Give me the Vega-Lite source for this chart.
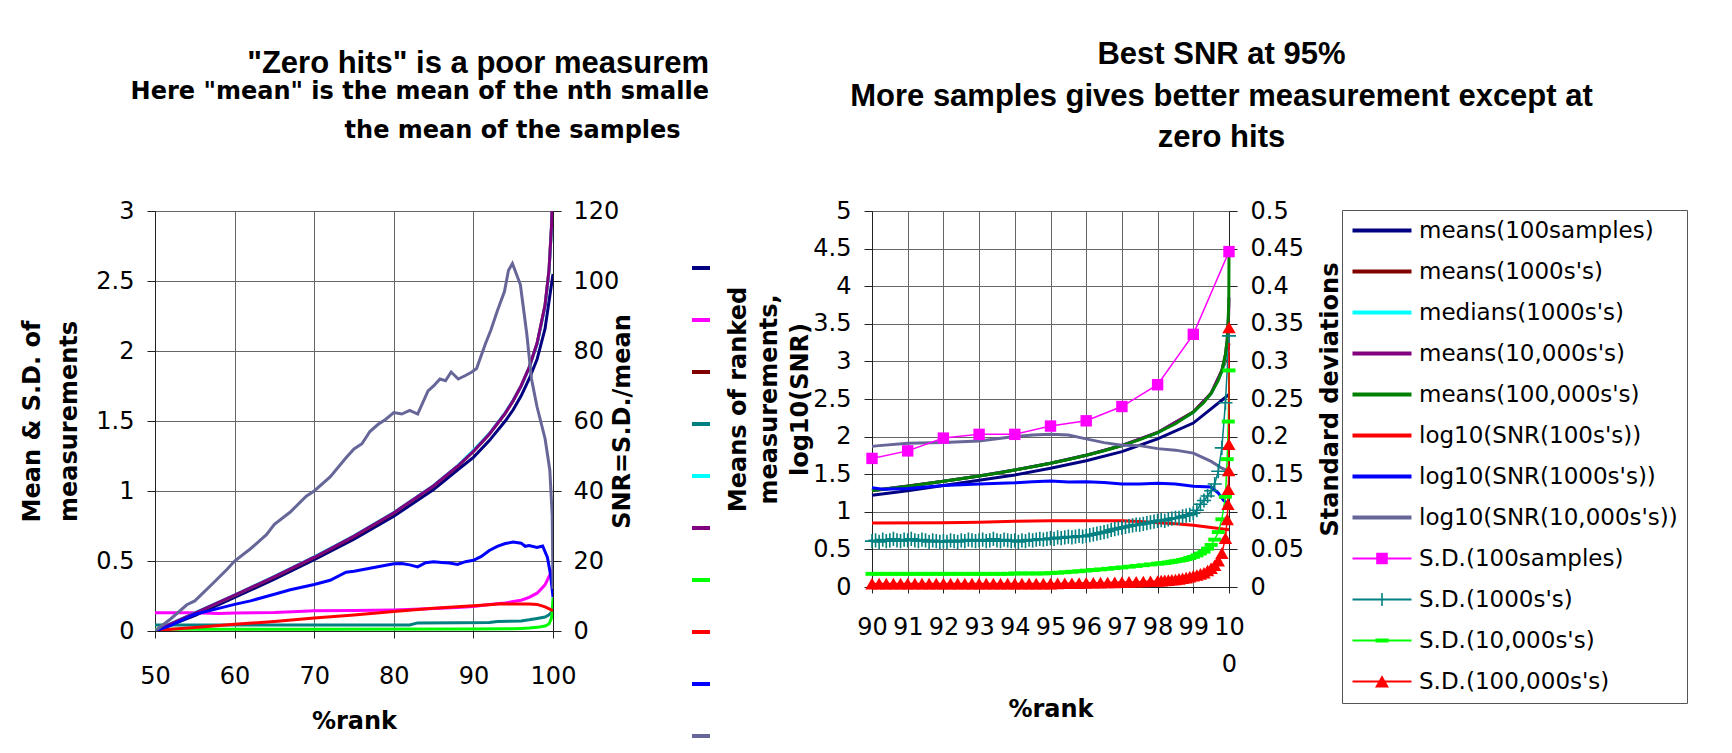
{
"$schema": "https://vega.github.io/schema/vega-lite/v6.json",
"background": "white",
"padding": {"left": 20, "top": 38, "right": 0, "bottom": 0},
"config": {
  "view": {"stroke": "#555", "strokeWidth": 1},
  "axis": {"labelFont": "DejaVu Sans", "labelFontSize": 24, "labelColor": "#000", "titleFont": "DejaVu Sans", "titleFontSize": 24, "titleFontWeight": "bold", "titleColor": "#000", "domainColor": "#222", "tickColor": "#222", "gridColor": "#666", "tickSize": 8, "labelFlush": false, "labelOverlap": false},
  "legend": {"labelFont": "DejaVu Sans", "labelFontSize": 23, "labelColor": "#000"},
  "title": {"font": "Liberation Sans", "fontWeight": "bold", "color": "#000", "subtitleFont": "DejaVu Sans", "subtitleFontWeight": "bold", "subtitleColor": "#000"}
},
"datasets": {
"L": [
{"s":"mean100","x":50,"y":0},{"s":"mean100","x":55,"y":0.11},{"s":"mean100","x":60,"y":0.24},{"s":"mean100","x":65,"y":0.37},{"s":"mean100","x":70,"y":0.51},{"s":"mean100","x":75,"y":0.655},{"s":"mean100","x":80,"y":0.82},{"s":"mean100","x":85,"y":1.01},{"s":"mean100","x":88,"y":1.15},{"s":"mean100","x":90,"y":1.24},{"s":"mean100","x":92,"y":1.36},{"s":"mean100","x":94,"y":1.5},{"s":"mean100","x":95,"y":1.58},{"s":"mean100","x":96,"y":1.68},{"s":"mean100","x":97,"y":1.8},{"s":"mean100","x":98,"y":1.94},{"s":"mean100","x":99,"y":2.16},{"s":"mean100","x":100,"y":2.55},
{"s":"sd100","x":50,"y":0.13},{"s":"sd100","x":55,"y":0.13},{"s":"sd100","x":58,"y":0.125},{"s":"sd100","x":60,"y":0.128},{"s":"sd100","x":65,"y":0.132},{"s":"sd100","x":68,"y":0.14},{"s":"sd100","x":70,"y":0.145},{"s":"sd100","x":75,"y":0.146},{"s":"sd100","x":80,"y":0.15},{"s":"sd100","x":85,"y":0.16},{"s":"sd100","x":88,"y":0.168},{"s":"sd100","x":90,"y":0.175},{"s":"sd100","x":92,"y":0.19},{"s":"sd100","x":94,"y":0.2},{"s":"sd100","x":95,"y":0.21},{"s":"sd100","x":96,"y":0.22},{"s":"sd100","x":97,"y":0.24},{"s":"sd100","x":98,"y":0.27},{"s":"sd100","x":99,"y":0.33},{"s":"sd100","x":99.5,"y":0.39},{"s":"sd100","x":100,"y":0.44},
{"s":"mean1000","x":50,"y":0},{"s":"mean1000","x":55,"y":0.126},{"s":"mean1000","x":60,"y":0.253},{"s":"mean1000","x":65,"y":0.385},{"s":"mean1000","x":70,"y":0.524},{"s":"mean1000","x":75,"y":0.674},{"s":"mean1000","x":80,"y":0.842},{"s":"mean1000","x":85,"y":1.036},{"s":"mean1000","x":88,"y":1.175},{"s":"mean1000","x":90,"y":1.282},{"s":"mean1000","x":92,"y":1.405},{"s":"mean1000","x":94,"y":1.555},{"s":"mean1000","x":95,"y":1.645},{"s":"mean1000","x":96,"y":1.751},{"s":"mean1000","x":97,"y":1.881},{"s":"mean1000","x":98,"y":2.054},{"s":"mean1000","x":99,"y":2.326},{"s":"mean1000","x":99.5,"y":2.576},{"s":"mean1000","x":99.8,"y":2.878},{"s":"mean1000","x":99.9,"y":3.0},{"s":"mean1000","x":100,"y":3.24},
{"s":"sd1000","x":50,"y":0.043},{"s":"sd1000","x":60,"y":0.042},{"s":"sd1000","x":70,"y":0.043},{"s":"sd1000","x":82,"y":0.043},{"s":"sd1000","x":83,"y":0.058},{"s":"sd1000","x":88,"y":0.059},{"s":"sd1000","x":92,"y":0.06},{"s":"sd1000","x":93,"y":0.068},{"s":"sd1000","x":96,"y":0.072},{"s":"sd1000","x":97,"y":0.08},{"s":"sd1000","x":98,"y":0.09},{"s":"sd1000","x":99,"y":0.1},{"s":"sd1000","x":99.5,"y":0.115},{"s":"sd1000","x":100,"y":0.145},
{"s":"median1000","x":50,"y":0},{"s":"median1000","x":55,"y":0.13},{"s":"median1000","x":60,"y":0.257},{"s":"median1000","x":65,"y":0.39},{"s":"median1000","x":70,"y":0.53},{"s":"median1000","x":75,"y":0.68},{"s":"median1000","x":80,"y":0.846},{"s":"median1000","x":85,"y":1.04},{"s":"median1000","x":88,"y":1.18},{"s":"median1000","x":90,"y":1.29},{"s":"median1000","x":92,"y":1.41},{"s":"median1000","x":94,"y":1.56},{"s":"median1000","x":95,"y":1.65},{"s":"median1000","x":96,"y":1.75},{"s":"median1000","x":97,"y":1.88},{"s":"median1000","x":98,"y":2.05},{"s":"median1000","x":99,"y":2.32},{"s":"median1000","x":99.5,"y":2.57},{"s":"median1000","x":99.8,"y":2.86},{"s":"median1000","x":99.9,"y":3.05},{"s":"median1000","x":100,"y":3.2},
{"s":"mean10000","x":50,"y":0},{"s":"mean10000","x":55,"y":0.128},{"s":"mean10000","x":60,"y":0.256},{"s":"mean10000","x":65,"y":0.388},{"s":"mean10000","x":70,"y":0.527},{"s":"mean10000","x":75,"y":0.678},{"s":"mean10000","x":80,"y":0.845},{"s":"mean10000","x":85,"y":1.038},{"s":"mean10000","x":88,"y":1.177},{"s":"mean10000","x":90,"y":1.284},{"s":"mean10000","x":92,"y":1.407},{"s":"mean10000","x":94,"y":1.556},{"s":"mean10000","x":95,"y":1.646},{"s":"mean10000","x":96,"y":1.752},{"s":"mean10000","x":97,"y":1.882},{"s":"mean10000","x":98,"y":2.055},{"s":"mean10000","x":99,"y":2.327},{"s":"mean10000","x":99.5,"y":2.577},{"s":"mean10000","x":99.8,"y":2.879},{"s":"mean10000","x":99.9,"y":3.09},{"s":"mean10000","x":100,"y":3.85},
{"s":"sd10000","x":50,"y":0.013},{"s":"sd10000","x":70,"y":0.013},{"s":"sd10000","x":90,"y":0.014},{"s":"sd10000","x":95,"y":0.016},{"s":"sd10000","x":96,"y":0.018},{"s":"sd10000","x":97,"y":0.021},{"s":"sd10000","x":98,"y":0.026},{"s":"sd10000","x":99,"y":0.035},{"s":"sd10000","x":99.5,"y":0.05},{"s":"sd10000","x":99.8,"y":0.09},{"s":"sd10000","x":99.9,"y":0.13},{"s":"sd10000","x":100,"y":0.24},
{"s":"snr100","x":50,"y":0},{"s":"snr100","x":52,"y":0.5},{"s":"snr100","x":55,"y":1},{"s":"snr100","x":60,"y":1.9},{"s":"snr100","x":65,"y":2.7},{"s":"snr100","x":70,"y":3.7},{"s":"snr100","x":75,"y":4.6},{"s":"snr100","x":80,"y":5.6},{"s":"snr100","x":85,"y":6.5},{"s":"snr100","x":90,"y":7.2},{"s":"snr100","x":92,"y":7.5},{"s":"snr100","x":93.5,"y":7.8},{"s":"snr100","x":95,"y":7.7},{"s":"snr100","x":97,"y":7.7},{"s":"snr100","x":98,"y":7.6},{"s":"snr100","x":99,"y":6.9},{"s":"snr100","x":100,"y":5.8},
{"s":"snr1000","x":50,"y":0},{"s":"snr1000","x":52,"y":1.6},{"s":"snr1000","x":55,"y":4.8},{"s":"snr1000","x":57,"y":5.9},{"s":"snr1000","x":60,"y":7.6},{"s":"snr1000","x":62,"y":8.6},{"s":"snr1000","x":65,"y":10.5},{"s":"snr1000","x":67,"y":11.8},{"s":"snr1000","x":70,"y":13.3},{"s":"snr1000","x":72,"y":14.5},{"s":"snr1000","x":74,"y":16.8},{"s":"snr1000","x":75,"y":17.1},{"s":"snr1000","x":77,"y":17.9},{"s":"snr1000","x":79,"y":18.8},{"s":"snr1000","x":80,"y":19.2},{"s":"snr1000","x":81,"y":19.3},{"s":"snr1000","x":82,"y":18.9},{"s":"snr1000","x":83,"y":18.3},{"s":"snr1000","x":84,"y":19.5},{"s":"snr1000","x":85,"y":19.8},{"s":"snr1000","x":86,"y":19.6},{"s":"snr1000","x":87,"y":19.4},{"s":"snr1000","x":88,"y":19.0},{"s":"snr1000","x":89,"y":19.8},{"s":"snr1000","x":90,"y":20.2},{"s":"snr1000","x":91,"y":21.3},{"s":"snr1000","x":92,"y":23.0},{"s":"snr1000","x":93,"y":24.2},{"s":"snr1000","x":94,"y":25.0},{"s":"snr1000","x":95,"y":25.4},{"s":"snr1000","x":96,"y":25.1},{"s":"snr1000","x":96.5,"y":24.2},{"s":"snr1000","x":97,"y":24.4},{"s":"snr1000","x":98,"y":23.9},{"s":"snr1000","x":98.7,"y":24.3},{"s":"snr1000","x":99.3,"y":21.0},{"s":"snr1000","x":99.7,"y":16.0},{"s":"snr1000","x":100,"y":9.7},
{"s":"snr10000","x":50,"y":0},{"s":"snr10000","x":52,"y":3.5},{"s":"snr10000","x":54,"y":7.5},{"s":"snr10000","x":55,"y":8.6},{"s":"snr10000","x":57,"y":13},{"s":"snr10000","x":59,"y":17.5},{"s":"snr10000","x":60,"y":20},{"s":"snr10000","x":62,"y":23.5},{"s":"snr10000","x":64,"y":27.5},{"s":"snr10000","x":65,"y":30.5},{"s":"snr10000","x":67,"y":34},{"s":"snr10000","x":69,"y":38.5},{"s":"snr10000","x":70,"y":40},{"s":"snr10000","x":72,"y":44},{"s":"snr10000","x":74,"y":49.5},{"s":"snr10000","x":75,"y":52},{"s":"snr10000","x":76,"y":53.5},{"s":"snr10000","x":77,"y":57},{"s":"snr10000","x":78,"y":59},{"s":"snr10000","x":79,"y":60.5},{"s":"snr10000","x":80,"y":62.4},{"s":"snr10000","x":81,"y":62},{"s":"snr10000","x":82,"y":63},{"s":"snr10000","x":83,"y":62},{"s":"snr10000","x":84.3,"y":68.6},{"s":"snr10000","x":85,"y":70},{"s":"snr10000","x":85.8,"y":72},{"s":"snr10000","x":86.5,"y":71.5},{"s":"snr10000","x":87.2,"y":74},{"s":"snr10000","x":88.1,"y":72},{"s":"snr10000","x":89,"y":73},{"s":"snr10000","x":89.8,"y":74},{"s":"snr10000","x":90.4,"y":75},{"s":"snr10000","x":91.5,"y":82},{"s":"snr10000","x":92.2,"y":86},{"s":"snr10000","x":93,"y":91.4},{"s":"snr10000","x":93.9,"y":97},{"s":"snr10000","x":94.4,"y":103},{"s":"snr10000","x":94.9,"y":105},{"s":"snr10000","x":95.4,"y":102},{"s":"snr10000","x":95.9,"y":99},{"s":"snr10000","x":96.3,"y":92},{"s":"snr10000","x":96.7,"y":85},{"s":"snr10000","x":97.3,"y":72},{"s":"snr10000","x":98,"y":64},{"s":"snr10000","x":99,"y":55},{"s":"snr10000","x":99.6,"y":46},{"s":"snr10000","x":99.9,"y":33},{"s":"snr10000","x":100,"y":12}
],
"R": [
{"s":"means(100samples)","x":90,"y":1.22},{"s":"means(100samples)","x":91,"y":1.28},{"s":"means(100samples)","x":92,"y":1.35},{"s":"means(100samples)","x":93,"y":1.42},{"s":"means(100samples)","x":94,"y":1.49},{"s":"means(100samples)","x":95,"y":1.58},{"s":"means(100samples)","x":96,"y":1.68},{"s":"means(100samples)","x":97,"y":1.8},{"s":"means(100samples)","x":98,"y":1.97},{"s":"means(100samples)","x":99,"y":2.18},{"s":"means(100samples)","x":100,"y":2.56},
{"s":"means(1000s's)","x":90,"y":1.28},{"s":"means(1000s's)","x":91,"y":1.34},{"s":"means(1000s's)","x":92,"y":1.405},{"s":"means(1000s's)","x":93,"y":1.476},{"s":"means(1000s's)","x":94,"y":1.555},{"s":"means(1000s's)","x":95,"y":1.645},{"s":"means(1000s's)","x":96,"y":1.751},{"s":"means(1000s's)","x":97,"y":1.881},{"s":"means(1000s's)","x":98,"y":2.054},{"s":"means(1000s's)","x":99,"y":2.326},{"s":"means(1000s's)","x":99.5,"y":2.576},{"s":"means(1000s's)","x":99.8,"y":2.878},{"s":"means(1000s's)","x":99.9,"y":3.0},{"s":"means(1000s's)","x":100,"y":3.24},
{"s":"medians(1000s's)","x":90,"y":1.282},{"s":"medians(1000s's)","x":91,"y":1.341},{"s":"medians(1000s's)","x":92,"y":1.405},{"s":"medians(1000s's)","x":93,"y":1.476},{"s":"medians(1000s's)","x":94,"y":1.555},{"s":"medians(1000s's)","x":95,"y":1.645},{"s":"medians(1000s's)","x":96,"y":1.751},{"s":"medians(1000s's)","x":97,"y":1.881},{"s":"medians(1000s's)","x":98,"y":2.05},{"s":"medians(1000s's)","x":99,"y":2.32},{"s":"medians(1000s's)","x":99.5,"y":2.57},{"s":"medians(1000s's)","x":99.8,"y":2.86},{"s":"medians(1000s's)","x":99.9,"y":3.05},{"s":"medians(1000s's)","x":100,"y":3.15},
{"s":"means(10,000s's)","x":90,"y":1.284},{"s":"means(10,000s's)","x":91,"y":1.342},{"s":"means(10,000s's)","x":92,"y":1.406},{"s":"means(10,000s's)","x":93,"y":1.477},{"s":"means(10,000s's)","x":94,"y":1.556},{"s":"means(10,000s's)","x":95,"y":1.646},{"s":"means(10,000s's)","x":96,"y":1.752},{"s":"means(10,000s's)","x":97,"y":1.882},{"s":"means(10,000s's)","x":98,"y":2.055},{"s":"means(10,000s's)","x":99,"y":2.327},{"s":"means(10,000s's)","x":99.5,"y":2.577},{"s":"means(10,000s's)","x":99.8,"y":2.879},{"s":"means(10,000s's)","x":99.9,"y":3.09},{"s":"means(10,000s's)","x":99.95,"y":3.29},{"s":"means(10,000s's)","x":99.99,"y":3.62},{"s":"means(10,000s's)","x":100,"y":3.85},
{"s":"means(100,000s's)","x":90,"y":1.282},{"s":"means(100,000s's)","x":90.5,"y":1.311},{"s":"means(100,000s's)","x":91,"y":1.341},{"s":"means(100,000s's)","x":91.5,"y":1.372},{"s":"means(100,000s's)","x":92,"y":1.405},{"s":"means(100,000s's)","x":92.5,"y":1.44},{"s":"means(100,000s's)","x":93,"y":1.476},{"s":"means(100,000s's)","x":93.5,"y":1.514},{"s":"means(100,000s's)","x":94,"y":1.555},{"s":"means(100,000s's)","x":94.5,"y":1.598},{"s":"means(100,000s's)","x":95,"y":1.645},{"s":"means(100,000s's)","x":95.5,"y":1.695},{"s":"means(100,000s's)","x":96,"y":1.751},{"s":"means(100,000s's)","x":96.5,"y":1.812},{"s":"means(100,000s's)","x":97,"y":1.881},{"s":"means(100,000s's)","x":97.5,"y":1.96},{"s":"means(100,000s's)","x":98,"y":2.054},{"s":"means(100,000s's)","x":98.5,"y":2.17},{"s":"means(100,000s's)","x":99,"y":2.326},{"s":"means(100,000s's)","x":99.3,"y":2.457},{"s":"means(100,000s's)","x":99.5,"y":2.576},{"s":"means(100,000s's)","x":99.7,"y":2.748},{"s":"means(100,000s's)","x":99.8,"y":2.878},{"s":"means(100,000s's)","x":99.9,"y":3.09},{"s":"means(100,000s's)","x":99.95,"y":3.29},{"s":"means(100,000s's)","x":99.99,"y":3.72},{"s":"means(100,000s's)","x":99.995,"y":3.9},{"s":"means(100,000s's)","x":100,"y":4.42},
{"s":"log10(SNR(100s's))","x":90,"y":0.85},{"s":"log10(SNR(100s's))","x":92,"y":0.855},{"s":"log10(SNR(100s's))","x":93,"y":0.86},{"s":"log10(SNR(100s's))","x":94,"y":0.875},{"s":"log10(SNR(100s's))","x":95,"y":0.88},{"s":"log10(SNR(100s's))","x":96,"y":0.88},{"s":"log10(SNR(100s's))","x":97,"y":0.88},{"s":"log10(SNR(100s's))","x":97.5,"y":0.87},{"s":"log10(SNR(100s's))","x":98,"y":0.855},{"s":"log10(SNR(100s's))","x":98.5,"y":0.84},{"s":"log10(SNR(100s's))","x":99,"y":0.82},{"s":"log10(SNR(100s's))","x":99.5,"y":0.79},{"s":"log10(SNR(100s's))","x":100,"y":0.76},
{"s":"log10(SNR(1000s's))","x":90,"y":1.32},{"s":"log10(SNR(1000s's))","x":90.3,"y":1.3},{"s":"log10(SNR(1000s's))","x":91,"y":1.31},{"s":"log10(SNR(1000s's))","x":92,"y":1.35},{"s":"log10(SNR(1000s's))","x":93,"y":1.37},{"s":"log10(SNR(1000s's))","x":94,"y":1.385},{"s":"log10(SNR(1000s's))","x":94.5,"y":1.4},{"s":"log10(SNR(1000s's))","x":95,"y":1.41},{"s":"log10(SNR(1000s's))","x":95.5,"y":1.395},{"s":"log10(SNR(1000s's))","x":96,"y":1.4},{"s":"log10(SNR(1000s's))","x":96.5,"y":1.39},{"s":"log10(SNR(1000s's))","x":97,"y":1.37},{"s":"log10(SNR(1000s's))","x":97.5,"y":1.37},{"s":"log10(SNR(1000s's))","x":98,"y":1.38},{"s":"log10(SNR(1000s's))","x":98.5,"y":1.37},{"s":"log10(SNR(1000s's))","x":99,"y":1.34},{"s":"log10(SNR(1000s's))","x":99.5,"y":1.33},{"s":"log10(SNR(1000s's))","x":99.7,"y":1.25},{"s":"log10(SNR(1000s's))","x":99.85,"y":1.15},{"s":"log10(SNR(1000s's))","x":100,"y":1.1},
{"s":"log10(SNR(10,000s's))","x":90,"y":1.87},{"s":"log10(SNR(10,000s's))","x":90.2,"y":1.88},{"s":"log10(SNR(10,000s's))","x":91,"y":1.91},{"s":"log10(SNR(10,000s's))","x":92,"y":1.92},{"s":"log10(SNR(10,000s's))","x":93,"y":1.94},{"s":"log10(SNR(10,000s's))","x":94,"y":2.0},{"s":"log10(SNR(10,000s's))","x":94.5,"y":2.02},{"s":"log10(SNR(10,000s's))","x":95,"y":2.03},{"s":"log10(SNR(10,000s's))","x":95.5,"y":2.02},{"s":"log10(SNR(10,000s's))","x":96,"y":1.97},{"s":"log10(SNR(10,000s's))","x":96.5,"y":1.92},{"s":"log10(SNR(10,000s's))","x":97,"y":1.885},{"s":"log10(SNR(10,000s's))","x":97.5,"y":1.88},{"s":"log10(SNR(10,000s's))","x":98,"y":1.84},{"s":"log10(SNR(10,000s's))","x":98.5,"y":1.82},{"s":"log10(SNR(10,000s's))","x":99,"y":1.78},{"s":"log10(SNR(10,000s's))","x":99.5,"y":1.67},{"s":"log10(SNR(10,000s's))","x":99.8,"y":1.58},{"s":"log10(SNR(10,000s's))","x":100,"y":1.54}
],
"S": [
{"s":"S.D.(100samples)","x":90,"y":0.171},{"s":"S.D.(100samples)","x":91,"y":0.181},{"s":"S.D.(100samples)","x":92,"y":0.198},{"s":"S.D.(100samples)","x":93,"y":0.203},{"s":"S.D.(100samples)","x":94,"y":0.203},{"s":"S.D.(100samples)","x":95,"y":0.214},{"s":"S.D.(100samples)","x":96,"y":0.221},{"s":"S.D.(100samples)","x":97,"y":0.24},{"s":"S.D.(100samples)","x":98,"y":0.269},{"s":"S.D.(100samples)","x":99,"y":0.336},{"s":"S.D.(100samples)","x":100,"y":0.446},
{"s":"S.D.(1000s's)","x":90.0,"y":0.061},{"s":"S.D.(1000s's)","x":90.1,"y":0.062},{"s":"S.D.(1000s's)","x":90.2,"y":0.06},{"s":"S.D.(1000s's)","x":90.3,"y":0.063},{"s":"S.D.(1000s's)","x":90.4,"y":0.061},{"s":"S.D.(1000s's)","x":90.5,"y":0.062},{"s":"S.D.(1000s's)","x":90.6,"y":0.064},{"s":"S.D.(1000s's)","x":90.7,"y":0.062},{"s":"S.D.(1000s's)","x":90.8,"y":0.061},{"s":"S.D.(1000s's)","x":90.9,"y":0.063},
{"s":"S.D.(1000s's)","x":91.0,"y":0.062},{"s":"S.D.(1000s's)","x":91.1,"y":0.064},{"s":"S.D.(1000s's)","x":91.2,"y":0.062},{"s":"S.D.(1000s's)","x":91.3,"y":0.061},{"s":"S.D.(1000s's)","x":91.4,"y":0.063},{"s":"S.D.(1000s's)","x":91.5,"y":0.062},{"s":"S.D.(1000s's)","x":91.6,"y":0.06},{"s":"S.D.(1000s's)","x":91.7,"y":0.062},{"s":"S.D.(1000s's)","x":91.8,"y":0.061},{"s":"S.D.(1000s's)","x":91.9,"y":0.06},
{"s":"S.D.(1000s's)","x":92.0,"y":0.061},{"s":"S.D.(1000s's)","x":92.1,"y":0.06},{"s":"S.D.(1000s's)","x":92.2,"y":0.062},{"s":"S.D.(1000s's)","x":92.3,"y":0.061},{"s":"S.D.(1000s's)","x":92.4,"y":0.06},{"s":"S.D.(1000s's)","x":92.5,"y":0.062},{"s":"S.D.(1000s's)","x":92.6,"y":0.061},{"s":"S.D.(1000s's)","x":92.7,"y":0.063},{"s":"S.D.(1000s's)","x":92.8,"y":0.062},{"s":"S.D.(1000s's)","x":92.9,"y":0.061},
{"s":"S.D.(1000s's)","x":93.0,"y":0.062},{"s":"S.D.(1000s's)","x":93.1,"y":0.063},{"s":"S.D.(1000s's)","x":93.2,"y":0.061},{"s":"S.D.(1000s's)","x":93.3,"y":0.062},{"s":"S.D.(1000s's)","x":93.4,"y":0.064},{"s":"S.D.(1000s's)","x":93.5,"y":0.062},{"s":"S.D.(1000s's)","x":93.6,"y":0.061},{"s":"S.D.(1000s's)","x":93.7,"y":0.063},{"s":"S.D.(1000s's)","x":93.8,"y":0.062},{"s":"S.D.(1000s's)","x":93.9,"y":0.061},
{"s":"S.D.(1000s's)","x":94.0,"y":0.062},{"s":"S.D.(1000s's)","x":94.1,"y":0.06},{"s":"S.D.(1000s's)","x":94.2,"y":0.062},{"s":"S.D.(1000s's)","x":94.3,"y":0.061},{"s":"S.D.(1000s's)","x":94.4,"y":0.063},{"s":"S.D.(1000s's)","x":94.5,"y":0.062},{"s":"S.D.(1000s's)","x":94.6,"y":0.063},{"s":"S.D.(1000s's)","x":94.7,"y":0.064},{"s":"S.D.(1000s's)","x":94.8,"y":0.063},{"s":"S.D.(1000s's)","x":94.9,"y":0.064},
{"s":"S.D.(1000s's)","x":95.0,"y":0.065},{"s":"S.D.(1000s's)","x":95.1,"y":0.064},{"s":"S.D.(1000s's)","x":95.2,"y":0.066},{"s":"S.D.(1000s's)","x":95.3,"y":0.065},{"s":"S.D.(1000s's)","x":95.4,"y":0.066},{"s":"S.D.(1000s's)","x":95.5,"y":0.067},{"s":"S.D.(1000s's)","x":95.6,"y":0.066},{"s":"S.D.(1000s's)","x":95.7,"y":0.067},{"s":"S.D.(1000s's)","x":95.8,"y":0.068},{"s":"S.D.(1000s's)","x":95.9,"y":0.067},
{"s":"S.D.(1000s's)","x":96.0,"y":0.068},{"s":"S.D.(1000s's)","x":96.1,"y":0.069},{"s":"S.D.(1000s's)","x":96.2,"y":0.07},{"s":"S.D.(1000s's)","x":96.3,"y":0.071},{"s":"S.D.(1000s's)","x":96.4,"y":0.072},{"s":"S.D.(1000s's)","x":96.5,"y":0.073},{"s":"S.D.(1000s's)","x":96.6,"y":0.074},{"s":"S.D.(1000s's)","x":96.7,"y":0.076},{"s":"S.D.(1000s's)","x":96.8,"y":0.077},{"s":"S.D.(1000s's)","x":96.9,"y":0.078},
{"s":"S.D.(1000s's)","x":97.0,"y":0.079},{"s":"S.D.(1000s's)","x":97.1,"y":0.08},{"s":"S.D.(1000s's)","x":97.2,"y":0.081},{"s":"S.D.(1000s's)","x":97.3,"y":0.082},{"s":"S.D.(1000s's)","x":97.4,"y":0.083},{"s":"S.D.(1000s's)","x":97.5,"y":0.083},{"s":"S.D.(1000s's)","x":97.6,"y":0.084},{"s":"S.D.(1000s's)","x":97.7,"y":0.085},{"s":"S.D.(1000s's)","x":97.8,"y":0.086},{"s":"S.D.(1000s's)","x":97.9,"y":0.087},
{"s":"S.D.(1000s's)","x":98.0,"y":0.088},{"s":"S.D.(1000s's)","x":98.1,"y":0.089},{"s":"S.D.(1000s's)","x":98.2,"y":0.088},{"s":"S.D.(1000s's)","x":98.3,"y":0.09},{"s":"S.D.(1000s's)","x":98.4,"y":0.091},{"s":"S.D.(1000s's)","x":98.5,"y":0.092},{"s":"S.D.(1000s's)","x":98.6,"y":0.092},{"s":"S.D.(1000s's)","x":98.7,"y":0.094},{"s":"S.D.(1000s's)","x":98.8,"y":0.095},{"s":"S.D.(1000s's)","x":98.9,"y":0.096},
{"s":"S.D.(1000s's)","x":99.0,"y":0.098},{"s":"S.D.(1000s's)","x":99.1,"y":0.102},{"s":"S.D.(1000s's)","x":99.2,"y":0.11},{"s":"S.D.(1000s's)","x":99.3,"y":0.115},{"s":"S.D.(1000s's)","x":99.4,"y":0.121},{"s":"S.D.(1000s's)","x":99.5,"y":0.128},{"s":"S.D.(1000s's)","x":99.6,"y":0.137},{"s":"S.D.(1000s's)","x":99.7,"y":0.154},{"s":"S.D.(1000s's)","x":99.8,"y":0.185},{"s":"S.D.(1000s's)","x":99.9,"y":0.245},{"s":"S.D.(1000s's)","x":100,"y":0.334},
{"s":"S.D.(10,000s's)","x":90.0,"y":0.0175},{"s":"S.D.(10,000s's)","x":90.2,"y":0.0175},{"s":"S.D.(10,000s's)","x":90.4,"y":0.0175},{"s":"S.D.(10,000s's)","x":90.6,"y":0.0175},{"s":"S.D.(10,000s's)","x":90.8,"y":0.0175},{"s":"S.D.(10,000s's)","x":91.0,"y":0.0175},{"s":"S.D.(10,000s's)","x":91.2,"y":0.0175},{"s":"S.D.(10,000s's)","x":91.4,"y":0.0175},{"s":"S.D.(10,000s's)","x":91.6,"y":0.0175},{"s":"S.D.(10,000s's)","x":91.8,"y":0.0175},{"s":"S.D.(10,000s's)","x":92.0,"y":0.0175},{"s":"S.D.(10,000s's)","x":92.2,"y":0.0175},{"s":"S.D.(10,000s's)","x":92.4,"y":0.0175},{"s":"S.D.(10,000s's)","x":92.6,"y":0.0175},{"s":"S.D.(10,000s's)","x":92.8,"y":0.0175},{"s":"S.D.(10,000s's)","x":93.0,"y":0.0175},{"s":"S.D.(10,000s's)","x":93.2,"y":0.0175},{"s":"S.D.(10,000s's)","x":93.4,"y":0.0175},{"s":"S.D.(10,000s's)","x":93.6,"y":0.0175},{"s":"S.D.(10,000s's)","x":93.8,"y":0.0175},{"s":"S.D.(10,000s's)","x":94.0,"y":0.018},{"s":"S.D.(10,000s's)","x":94.2,"y":0.018},{"s":"S.D.(10,000s's)","x":94.4,"y":0.018},{"s":"S.D.(10,000s's)","x":94.6,"y":0.018},{"s":"S.D.(10,000s's)","x":94.8,"y":0.018},{"s":"S.D.(10,000s's)","x":95.0,"y":0.0185},{"s":"S.D.(10,000s's)","x":95.2,"y":0.019},{"s":"S.D.(10,000s's)","x":95.4,"y":0.0196},{"s":"S.D.(10,000s's)","x":95.6,"y":0.0203},{"s":"S.D.(10,000s's)","x":95.8,"y":0.021},{"s":"S.D.(10,000s's)","x":96.0,"y":0.0218},{"s":"S.D.(10,000s's)","x":96.2,"y":0.0226},{"s":"S.D.(10,000s's)","x":96.4,"y":0.0234},{"s":"S.D.(10,000s's)","x":96.6,"y":0.0242},{"s":"S.D.(10,000s's)","x":96.8,"y":0.0252},{"s":"S.D.(10,000s's)","x":97.0,"y":0.026},{"s":"S.D.(10,000s's)","x":97.2,"y":0.027},{"s":"S.D.(10,000s's)","x":97.4,"y":0.028},{"s":"S.D.(10,000s's)","x":97.6,"y":0.029},{"s":"S.D.(10,000s's)","x":97.8,"y":0.03},{"s":"S.D.(10,000s's)","x":98.0,"y":0.031},{"s":"S.D.(10,000s's)","x":98.1,"y":0.0315},{"s":"S.D.(10,000s's)","x":98.2,"y":0.032},{"s":"S.D.(10,000s's)","x":98.3,"y":0.0327},{"s":"S.D.(10,000s's)","x":98.4,"y":0.0335},{"s":"S.D.(10,000s's)","x":98.5,"y":0.0343},{"s":"S.D.(10,000s's)","x":98.6,"y":0.035},{"s":"S.D.(10,000s's)","x":98.7,"y":0.036},{"s":"S.D.(10,000s's)","x":98.8,"y":0.037},{"s":"S.D.(10,000s's)","x":98.9,"y":0.0385},{"s":"S.D.(10,000s's)","x":99.0,"y":0.04},{"s":"S.D.(10,000s's)","x":99.1,"y":0.042},{"s":"S.D.(10,000s's)","x":99.2,"y":0.0445},{"s":"S.D.(10,000s's)","x":99.3,"y":0.047},{"s":"S.D.(10,000s's)","x":99.4,"y":0.051},{"s":"S.D.(10,000s's)","x":99.5,"y":0.056},{"s":"S.D.(10,000s's)","x":99.6,"y":0.063},{"s":"S.D.(10,000s's)","x":99.7,"y":0.073},{"s":"S.D.(10,000s's)","x":99.8,"y":0.09},{"s":"S.D.(10,000s's)","x":99.9,"y":0.12},{"s":"S.D.(10,000s's)","x":99.95,"y":0.17},{"s":"S.D.(10,000s's)","x":99.98,"y":0.22},{"s":"S.D.(10,000s's)","x":100,"y":0.288},
{"s":"S.D.(100,000s's)","x":90.0,"y":0.0045},{"s":"S.D.(100,000s's)","x":90.2,"y":0.0045},{"s":"S.D.(100,000s's)","x":90.4,"y":0.0045},{"s":"S.D.(100,000s's)","x":90.6,"y":0.0045},{"s":"S.D.(100,000s's)","x":90.8,"y":0.0045},{"s":"S.D.(100,000s's)","x":91.0,"y":0.0045},{"s":"S.D.(100,000s's)","x":91.2,"y":0.0045},{"s":"S.D.(100,000s's)","x":91.4,"y":0.0045},{"s":"S.D.(100,000s's)","x":91.6,"y":0.0045},{"s":"S.D.(100,000s's)","x":91.8,"y":0.0045},{"s":"S.D.(100,000s's)","x":92.0,"y":0.0045},{"s":"S.D.(100,000s's)","x":92.2,"y":0.0045},{"s":"S.D.(100,000s's)","x":92.4,"y":0.0045},{"s":"S.D.(100,000s's)","x":92.6,"y":0.0045},{"s":"S.D.(100,000s's)","x":92.8,"y":0.0045},{"s":"S.D.(100,000s's)","x":93.0,"y":0.0045},{"s":"S.D.(100,000s's)","x":93.2,"y":0.0045},{"s":"S.D.(100,000s's)","x":93.4,"y":0.0045},{"s":"S.D.(100,000s's)","x":93.6,"y":0.0045},{"s":"S.D.(100,000s's)","x":93.8,"y":0.0045},{"s":"S.D.(100,000s's)","x":94.0,"y":0.0045},{"s":"S.D.(100,000s's)","x":94.2,"y":0.0045},{"s":"S.D.(100,000s's)","x":94.4,"y":0.0045},{"s":"S.D.(100,000s's)","x":94.6,"y":0.0045},{"s":"S.D.(100,000s's)","x":94.8,"y":0.0045},{"s":"S.D.(100,000s's)","x":95.0,"y":0.0045},{"s":"S.D.(100,000s's)","x":95.2,"y":0.0048},{"s":"S.D.(100,000s's)","x":95.4,"y":0.005},{"s":"S.D.(100,000s's)","x":95.6,"y":0.005},{"s":"S.D.(100,000s's)","x":95.8,"y":0.0052},{"s":"S.D.(100,000s's)","x":96.0,"y":0.0055},{"s":"S.D.(100,000s's)","x":96.2,"y":0.0056},{"s":"S.D.(100,000s's)","x":96.4,"y":0.0058},{"s":"S.D.(100,000s's)","x":96.6,"y":0.006},{"s":"S.D.(100,000s's)","x":96.8,"y":0.0062},{"s":"S.D.(100,000s's)","x":97.0,"y":0.0065},{"s":"S.D.(100,000s's)","x":97.2,"y":0.0068},{"s":"S.D.(100,000s's)","x":97.4,"y":0.007},{"s":"S.D.(100,000s's)","x":97.6,"y":0.0073},{"s":"S.D.(100,000s's)","x":97.8,"y":0.0076},{"s":"S.D.(100,000s's)","x":98.0,"y":0.008},{"s":"S.D.(100,000s's)","x":98.1,"y":0.0084},{"s":"S.D.(100,000s's)","x":98.2,"y":0.0088},{"s":"S.D.(100,000s's)","x":98.3,"y":0.0092},{"s":"S.D.(100,000s's)","x":98.4,"y":0.0096},{"s":"S.D.(100,000s's)","x":98.5,"y":0.01},{"s":"S.D.(100,000s's)","x":98.6,"y":0.0108},{"s":"S.D.(100,000s's)","x":98.7,"y":0.0116},{"s":"S.D.(100,000s's)","x":98.8,"y":0.0125},{"s":"S.D.(100,000s's)","x":98.9,"y":0.0136},{"s":"S.D.(100,000s's)","x":99.0,"y":0.015},{"s":"S.D.(100,000s's)","x":99.1,"y":0.016},{"s":"S.D.(100,000s's)","x":99.2,"y":0.0175},{"s":"S.D.(100,000s's)","x":99.3,"y":0.019},{"s":"S.D.(100,000s's)","x":99.4,"y":0.022},{"s":"S.D.(100,000s's)","x":99.5,"y":0.025},{"s":"S.D.(100,000s's)","x":99.6,"y":0.029},{"s":"S.D.(100,000s's)","x":99.7,"y":0.035},{"s":"S.D.(100,000s's)","x":99.8,"y":0.045},{"s":"S.D.(100,000s's)","x":99.9,"y":0.065},{"s":"S.D.(100,000s's)","x":99.95,"y":0.09},{"s":"S.D.(100,000s's)","x":99.97,"y":0.11},{"s":"S.D.(100,000s's)","x":99.98,"y":0.13},{"s":"S.D.(100,000s's)","x":99.99,"y":0.155},{"s":"S.D.(100,000s's)","x":99.995,"y":0.19},{"s":"S.D.(100,000s's)","x":100,"y":0.345}
]
},
"spacing": 7,
"resolve": {"scale": {"color": "independent", "shape": "independent", "stroke": "independent", "fill": "independent"}},
"hconcat": [
{
  "width": 398, "height": 420,
  "title": {"text": "\"Zero hits\" is a poor measurem", "subtitle": ["Here \"mean\" is the mean of the nth smalle", "the mean of the samples\u2009\u2009\u2800"], "anchor": "end", "align": "right", "frame": "group", "dx": 156, "fontSize": 31, "subtitleFontSize": 24, "subtitleLineHeight": 39, "subtitlePadding": 0, "offset": 55},
  "encoding": {
    "x": {"field": "x", "type": "quantitative", "scale": {"domain": [50, 100], "nice": false}, "axis": {"values": [50, 60, 70, 80, 90, 100], "title": "%rank", "tickSize": 7, "labelPadding": 26, "titlePadding": 21, "grid": true, "labelOverlap": false, "labelFlush": false}}
  },
  "layer": [
    {"data": {"name": "L"},
     "transform": [{"filter": {"field": "s", "oneOf": ["mean100", "sd100", "mean1000", "sd1000", "median1000", "mean10000", "sd10000"]}}],
     "mark": {"type": "line", "strokeWidth": 3, "clip": true},
     "encoding": {
       "y": {"field": "y", "type": "quantitative", "scale": {"domain": [0, 3], "nice": false}, "axis": {"values": [0, 0.5, 1, 1.5, 2, 2.5, 3], "format": "~g", "title": ["Mean & S.D. of", "measurements"], "titleLineHeight": 37, "titlePadding": 14, "labelPadding": 13, "grid": true}},
       "color": {"field": "s", "type": "nominal",
         "scale": {"domain": ["mean100", "sd100", "mean1000", "sd1000", "median1000", "mean10000", "sd10000", "snr100", "snr1000", "snr10000"], "range": ["#000080", "#FF00FF", "#800000", "#008080", "#00FFFF", "#800080", "#00FF00", "#FF0000", "#0000FF", "#666699"]},
         "legend": {"orient": "none", "legendX": 535, "legendY": 46, "title": null, "labelExpr": "''", "labelFontSize": 1, "symbolType": "stroke", "symbolSize": 324, "symbolStrokeWidth": 4, "padding": 0, "rowPadding": 33}}
     }},
    {"data": {"name": "L"},
     "transform": [{"filter": {"field": "s", "oneOf": ["snr100", "snr1000", "snr10000"]}}],
     "mark": {"type": "line", "strokeWidth": 3, "clip": true},
     "encoding": {
       "y": {"field": "y", "type": "quantitative", "scale": {"domain": [0, 120], "nice": false}, "axis": {"orient": "right", "values": [0, 20, 40, 60, 80, 100, 120], "title": "SNR=S.D./mean", "titleAngle": 270, "grid": false, "labelPadding": 12, "titlePadding": 16}},
       "color": {"field": "s", "type": "nominal"}
     }}
  ],
  "resolve": {"scale": {"y": "independent"}}
},
{
  "width": 357, "height": 376,
  "title": {"text": ["Best SNR at 95%", "More samples gives better measurement except at", "zero hits"], "anchor": "middle", "frame": "group", "dx": 171, "fontSize": 31, "lineHeight": 41.5, "offset": 45},
  "encoding": {
    "x": {"field": "x", "type": "quantitative", "scale": {"domain": [90, 100], "nice": false}, "axis": {"values": [90, 91, 92, 93, 94, 95, 96, 97, 98, 99, 100], "title": "%rank", "labelExpr": "datum.value == 100 ? ['10', '0'] : datum.label", "labelLineHeight": 37, "tickSize": 6, "labelPadding": 22, "titlePadding": 21, "grid": true, "labelOverlap": false, "labelFlush": false}}
  },
  "layer": [
    {"data": {"name": "R"},
     "mark": {"type": "line", "strokeWidth": 3},
     "encoding": {
       "y": {"field": "y", "type": "quantitative", "scale": {"domain": [0, 5], "nice": false}, "axis": {"values": [0, 0.5, 1, 1.5, 2, 2.5, 3, 3.5, 4, 4.5, 5], "format": "~g", "title": ["Means of ranked", "measurements,", "log10(SNR)"], "titleLineHeight": 31, "titlePadding": 0, "labelPadding": 13, "grid": true}},
       "stroke": {"field": "s", "type": "nominal", "legend": null,
         "scale": {"domain": ["S.D.(100samples)", "S.D.(1000s's)", "S.D.(10,000s's)", "S.D.(100,000s's)", "means(100samples)", "means(1000s's)", "medians(1000s's)", "means(10,000s's)", "means(100,000s's)", "log10(SNR(100s's))", "log10(SNR(1000s's))", "log10(SNR(10,000s's))"], "range": ["#FF00FF", "#008080", "#00FF00", "#FF0000", "#000080", "#800000", "#00FFFF", "#800080", "#008000", "#FF0000", "#0000FF", "#666699"]}}
     }},
    {"encoding": {
       "y": {"field": "y", "type": "quantitative", "scale": {"domain": [0, 0.5], "nice": false}, "axis": {"orient": "right", "values": [0, 0.05, 0.1, 0.15, 0.2, 0.25, 0.3, 0.35, 0.4, 0.45, 0.5], "format": "~g", "title": "Standard deviations", "titleAngle": 270, "grid": false, "labelPadding": 13, "titlePadding": 39}}
     },
     "layer": [
      {"data": {"name": "S"},
       "mark": {"type": "line", "strokeWidth": 1.5},
       "encoding": {
         "stroke": {"field": "s", "type": "nominal", "legend": null}
       }},
      {"data": {"name": "S"},
       "transform": [{"filter": {"field": "s", "equal": "S.D.(100samples)"}}],
       "mark": {"type": "point", "shape": "square", "filled": true, "size": 130, "color": "#FF00FF", "opacity": 1}},
      {"data": {"name": "S"},
       "transform": [{"filter": {"field": "s", "equal": "S.D.(1000s's)"}}],
       "mark": {"type": "point", "shape": "M0,-1V1M-1,0H1", "filled": false, "size": 200, "color": "#008080", "strokeWidth": 1.6, "opacity": 1}},
      {"data": {"name": "S"},
       "transform": [{"filter": {"field": "s", "equal": "S.D.(10,000s's)"}}],
       "mark": {"type": "point", "shape": "M-1,-0.3H1V0.3H-1Z", "filled": true, "size": 169, "color": "#00FF00", "opacity": 1}},
      {"data": {"name": "S"},
       "transform": [{"filter": {"field": "s", "equal": "S.D.(100,000s's)"}}],
       "mark": {"type": "point", "shape": "triangle-up", "filled": true, "size": 180, "color": "#FF0000", "opacity": 1}},
      {"data": {"name": "S"},
       "mark": {"type": "point", "filled": true, "opacity": 0},
       "encoding": {
         "fill": {"field": "s", "type": "nominal",
           "scale": {"domain": ["means(100samples)", "means(1000s's)", "medians(1000s's)", "means(10,000s's)", "means(100,000s's)", "log10(SNR(100s's))", "log10(SNR(1000s's))", "log10(SNR(10,000s's))", "S.D.(100samples)", "S.D.(1000s's)", "S.D.(10,000s's)", "S.D.(100,000s's)"], "range": ["#000080", "#800000", "#00FFFF", "#800080", "#008000", "#FF0000", "#0000FF", "#666699", "#FF00FF", "#008080", "#00FF00", "#FF0000"]},
           "legend": {"orient": "none", "legendX": 470, "legendY": -1, "title": null, "padding": 9, "rowPadding": 17, "symbolSize": 400, "labelOffset": 45, "labelLimit": 0, "symbolOpacity": 1, "symbolStrokeWidth": 0, "strokeColor": "#555", "fillColor": "white", "labelFontSize": 23}},
         "shape": {"field": "s", "type": "nominal",
           "scale": {"domain": ["means(100samples)", "means(1000s's)", "medians(1000s's)", "means(10,000s's)", "means(100,000s's)", "log10(SNR(100s's))", "log10(SNR(1000s's))", "log10(SNR(10,000s's))", "S.D.(100samples)", "S.D.(1000s's)", "S.D.(10,000s's)", "S.D.(100,000s's)"],
             "range": ["M-1,-0.2H4.9V0.2H-1Z", "M-1,-0.2H4.9V0.2H-1Z", "M-1,-0.2H4.9V0.2H-1Z", "M-1,-0.2H4.9V0.2H-1Z", "M-1,-0.2H4.9V0.2H-1Z", "M-1,-0.2H4.9V0.2H-1Z", "M-1,-0.2H4.9V0.2H-1Z", "M-1,-0.2H4.9V0.2H-1Z", "M-1,-0.1H4.9V0.1H-1ZM1.37,-0.58H2.53V0.58H1.37Z", "M-1,-0.1H4.9V0.1H-1ZM1.87,-0.65H2.03V0.65H1.87Z", "M-1,-0.1H4.9V0.1H-1ZM1.3,-0.2H2.6V0.2H1.3Z", "M-1,-0.1H4.9V0.1H-1ZM1.95,-0.62L2.65,0.6H1.25Z"]},
           "legend": {"orient": "none", "legendX": 470, "legendY": -1, "title": null, "padding": 9, "rowPadding": 17, "symbolSize": 400, "labelOffset": 45, "labelLimit": 0, "symbolOpacity": 1, "symbolStrokeWidth": 0, "strokeColor": "#555", "fillColor": "white", "labelFontSize": 23}}
       }}
    ]}
  ],
  "resolve": {"scale": {"y": "independent"}}
}
]
}
